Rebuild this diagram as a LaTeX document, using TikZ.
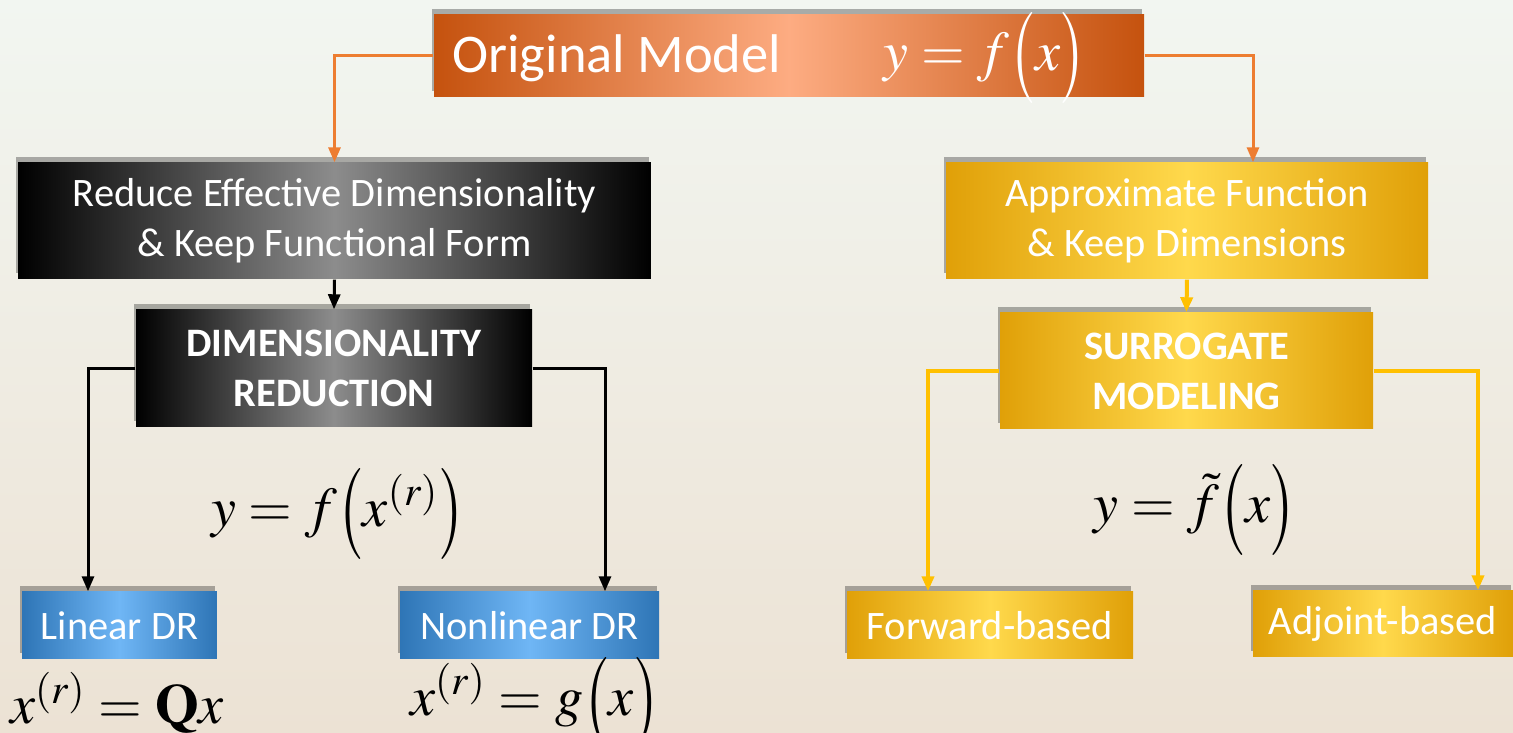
\documentclass[tikz,border=0pt]{standalone}
\usepackage{mathptmx}
\usepackage[no-math]{fontspec}
\setmainfont{Carlito}
\usetikzlibrary{arrows.meta}
\usetikzlibrary{shadows}

\newcommand{\eqlp}{\mathopen{\raisebox{-0.25ex}{\scalebox{1}[1.35]{$\bigl($}}}}
\newcommand{\eqrp}{\mathclose{\raisebox{-0.25ex}{\scalebox{1}[1.35]{$\bigr)$}}}}

\definecolor{bgtop}{RGB}{242,246,241}
\definecolor{bgbot}{RGB}{236,226,212}
\definecolor{orgdark}{RGB}{197,82,14}
\definecolor{orglight}{RGB}{253,172,130}
\definecolor{orgline}{RGB}{237,125,49}
\definecolor{yeldark}{RGB}{224,160,8}
\definecolor{yellight}{RGB}{255,217,76}
\definecolor{yelline}{RGB}{255,192,0}
\definecolor{bluedark}{RGB}{46,117,182}
\definecolor{bluelight}{RGB}{111,182,245}

\begin{document}
\begin{tikzpicture}
	[x=0.1mm, y=-0.1mm,
	box/.style={inner sep=0pt, align=center, text=white, font=\fontsize{11.5}{14.2}\selectfont,
		drop shadow={shadow xshift=-0.6pt, shadow yshift=1.6pt, opacity=0.3, fill=black}},
	orgbox/.style={box, left color=orgdark, right color=orgdark, middle color=orglight},
	blkbox/.style={box, left color=black, right color=black, middle color=black!45},
	yelbox/.style={box, left color=yeldark, right color=yeldark, middle color=yellight},
	bluebox/.style={box, left color=bluedark, right color=bluedark, middle color=bluelight},
	tip/.style={-{Stealth[length=1.5mm, width=1.2mm, inset=0pt]}},
	oline/.style={tip, orgline, line width=0.3mm},
	kline/.style={tip, black, line width=0.3mm},
	yline/.style={tip, yelline, line width=0.4mm},
	eq/.style={font=\fontsize{16}{19}\selectfont}];

	%Background
	\useasboundingbox (0,0) rectangle (1513,733);
	\shade[top color=bgtop, bottom color=bgbot] (0,0) rectangle (1513,733);

	%Top
	\node[orgbox, minimum width=71mm, minimum height=8.2mm] (orig) at (789,56) {};
	\node[anchor=west, text=white, font=\fontsize{15.5}{18}\selectfont] (origtxt) at (440,58) {Original Model};
	\node[eq, text=white] (origeq) at (985,58) {$y=f\eqlp x\eqrp$};

	%Left branch
	\node[blkbox, minimum width=63.3mm, minimum height=11.6mm] (reduce) at (334.5,221) {Reduce Effective Dimensionality\\\& Keep Functional Form};
	\node[blkbox, minimum width=39.6mm, minimum height=11.7mm, font=\fontsize{11.5}{14.2}\selectfont\bfseries] (dimred) at (334,368.5) {DIMENSIONALITY\\REDUCTION};
	\node[eq] (dimeq) at (338,514) {$y=f\eqlp x^{(r)}\eqrp$};
	\node[bluebox, minimum width=19.5mm, minimum height=6.7mm] (lindr) at (119.5,625.5) {Linear DR};
	\node[bluebox, minimum width=25.9mm, minimum height=6.7mm] (nonlindr) at (529.5,625.5) {Nonlinear DR};
	\node[eq] (lineq) at (117,703) {$x^{(r)}=\mathbf{Q}x$};
	\node[eq] (nonlineq) at (535,703) {$x^{(r)}=g\eqlp x\eqrp$};

	%Right branch
	\node[yelbox, minimum width=48.2mm, minimum height=11.6mm] (approx) at (1187,221) {Approximate Function\\\& Keep Dimensions};
	\node[yelbox, minimum width=37.3mm, minimum height=11.6mm, font=\fontsize{11.5}{14.2}\selectfont\bfseries] (surr) at (1186.5,371) {SURROGATE\\MODELING};
	\node[eq] (surreq) at (1195,510) {$y=\tilde{f}\eqlp x\eqrp$};
	\node[yelbox, minimum width=28.6mm, minimum height=6.7mm] (fwd) at (990,625.5) {Forward-based};
	\node[yelbox, minimum width=26mm, minimum height=6.6mm] (adj) at (1383,624) {Adjoint-based};

	%Connectors
	\draw[oline] (orig.west) -| (reduce.north);
	\draw[oline] (orig.east) -| ([xshift=6.6mm]approx.north);
	\draw[kline] (reduce.south) -- (dimred.north);
	\draw[kline] (dimred.west) -| ([xshift=-3.15mm]lindr.north);
	\draw[kline] (dimred.east) -| ([xshift=7.55mm]nonlindr.north);
	\draw[yline] (approx.south) -- (surr.north);
	\draw[yline] (surr.west) -| ([xshift=-6.2mm]fwd.north);
	\draw[yline] (surr.east) -| ([xshift=9.5mm]adj.north);
\end{tikzpicture}
\end{document}
